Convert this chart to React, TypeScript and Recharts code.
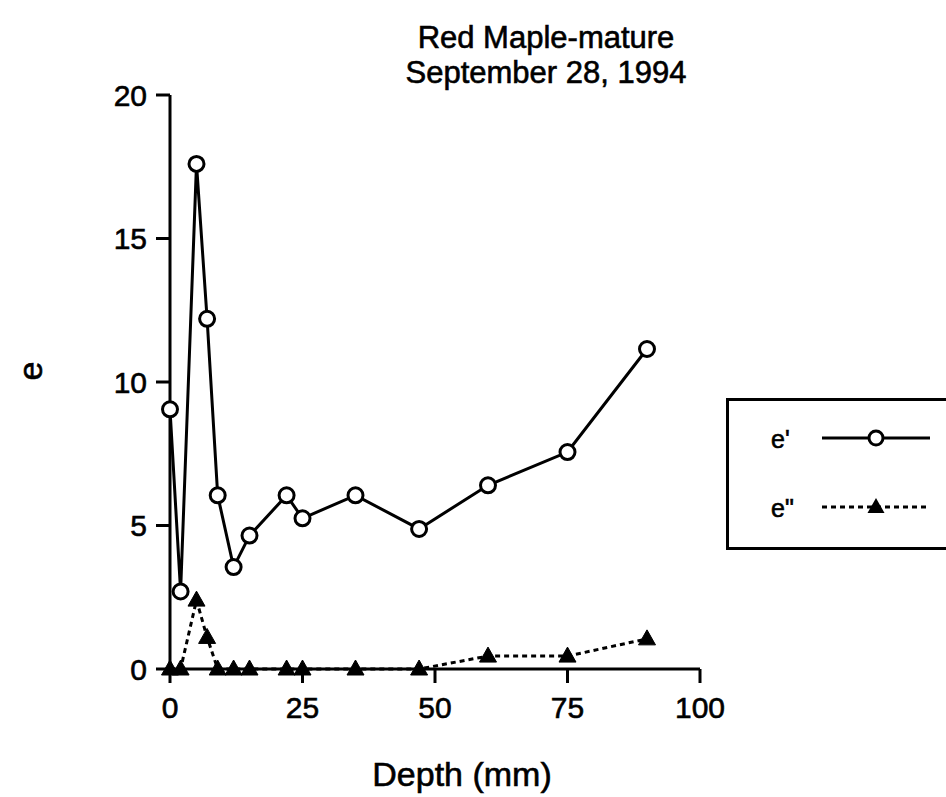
import React from 'react';
import { LineChart, Line, XAxis, YAxis, Legend, Customized } from 'recharts';

// ---- data ----
const depths = [0, 2, 5, 7, 9, 12, 15, 22, 25, 35, 47, 60, 75, 90];
const ePrime = [9.05, 2.7, 17.6, 12.2, 6.05, 3.55, 4.65, 6.05, 5.25, 6.05, 4.88, 6.4, 7.56, 11.15];
const eDoublePrime = [0, 0, 2.4, 1.1, 0, 0, 0, 0, 0, 0, 0, 0.45, 0.45, 1.05];
const xTicks = [0, 25, 50, 75, 100];
const yTicks = [0, 5, 10, 15, 20];
const titleLines = ['Red Maple-mature', 'September 28, 1994'];
const seriesNames = { ep: "e'", epp: 'e"' };

const data = depths.map((d, i) => ({ depth: d, ep: ePrime[i], epp: eDoublePrime[i] }));

const FONT = '"Liberation Sans", Arial, Helvetica, sans-serif';
const TXT = { fontFamily: FONT, fill: '#000', stroke: '#000', strokeWidth: 0.6 };

const Triangle = (props: any) => {
  const { cx, cy, index } = props;
  if (cx == null || cy == null) return <g key={index} />;
  return (
    <path
      key={index}
      d={`M${cx},${cy - 9} L${cx + 8.5},${cy + 6} L${cx - 8.5},${cy + 6} Z`}
      fill="#000"
      stroke="#000"
      strokeWidth={1}
      strokeLinejoin="round"
    />
  );
};

const renderLegend = (props: any) => {
  const payload = (props && props.payload) || [];
  const rows = ['ep', 'epp'];
  return (
    <svg width={222} height={152} style={{ display: 'block' }}>
      <rect x={1.5} y={1.5} width={230} height={149} fill="#fff" stroke="#000" strokeWidth={3} />
      {rows.map((key, i) => {
        const item = payload.find((p: any) => p.dataKey === key);
        const label = item ? item.value : (seriesNames as any)[key];
        const y = 40 + i * 69;
        return (
          <g key={key}>
            <text x={45} y={y + 10} fontSize={25} {...TXT}>{label}</text>
            {key === 'ep' ? (
              <g>
                <line x1={96} x2={204} y1={y} y2={y} stroke="#000" strokeWidth={3} />
                <circle cx={150} cy={y} r={7} fill="#fff" stroke="#000" strokeWidth={3} />
              </g>
            ) : (
              <g>
                <line x1={96} x2={200} y1={y} y2={y} stroke="#000" strokeWidth={3} strokeDasharray="5 4" />
                <path d={`M150,${y - 9} L158.5,${y + 6} L141.5,${y + 6} Z`} fill="#000" />
              </g>
            )}
          </g>
        );
      })}
    </svg>
  );
};

const Title = () => (
  <g>
    <text x={546} y={48} textAnchor="middle" fontSize={31} {...TXT}>{titleLines[0]}</text>
    <text x={546} y={83} textAnchor="middle" fontSize={31} {...TXT}>{titleLines[1]}</text>
  </g>
);

const XLabel = (props: any) => {
  const vb = props.viewBox || { x: 170, y: 669, width: 530, height: 128 };
  return (
    <text x={vb.x + vb.width / 2 + 27} y={vb.y + 117} textAnchor="middle" fontSize={34} {...TXT}>
      Depth (mm)
    </text>
  );
};

const YLabel = (props: any) => {
  const vb = props.viewBox || { x: 0, y: 95, width: 170, height: 574 };
  const cx = vb.x + 30;
  const cy = vb.y + vb.height / 2 - 11;
  return (
    <text x={cx} y={cy} textAnchor="middle" dominantBaseline="central" transform={`rotate(-90 ${cx} ${cy})`} fontSize={34} {...TXT}>
      e
    </text>
  );
};

export default function App() {
  return (
    <div style={{ position: 'absolute', left: 0, top: 0, width: 946, height: 797, background: '#fff' }}>
      <LineChart width={946} height={797} data={data} margin={{ top: 95, right: 246, bottom: 0, left: 0 }}>
        <XAxis
          type="number"
          dataKey="depth"
          domain={[0, 100]}
          ticks={xTicks}
          height={128}
          axisLine={{ stroke: '#000', strokeWidth: 3 }}
          tickLine={{ stroke: '#000', strokeWidth: 3 }}
          tickSize={14}
          tickMargin={14}
          tick={{ fontSize: 30, ...TXT }}
          label={<XLabel />}
        />
        <YAxis
          type="number"
          domain={[0, 20]}
          ticks={yTicks}
          width={170}
          axisLine={{ stroke: '#000', strokeWidth: 3 }}
          tickLine={{ stroke: '#000', strokeWidth: 3 }}
          tickSize={14}
          tickMargin={9}
          tick={{ fontSize: 30, ...TXT }}
          label={<YLabel />}
        />
        <Line
          type="linear"
          dataKey="epp"
          name={seriesNames.epp}
          stroke="#000"
          strokeWidth={3}
          strokeDasharray="5 4"
          dot={Triangle}
          activeDot={false}
          isAnimationActive={false}
        />
        <Line
          type="linear"
          dataKey="ep"
          name={seriesNames.ep}
          stroke="#000"
          strokeWidth={3}
          dot={{ r: 7.5, fill: '#fff', stroke: '#000', strokeWidth: 3 }}
          activeDot={false}
          isAnimationActive={false}
        />
        <Legend
          layout="vertical"
          align="center"
          verticalAlign="middle"
          content={renderLegend}
          wrapperStyle={{ position: 'absolute', left: 726, top: 398, width: 222, height: 152 }}
        />
        <Customized component={Title} />
      </LineChart>
    </div>
  );
}
